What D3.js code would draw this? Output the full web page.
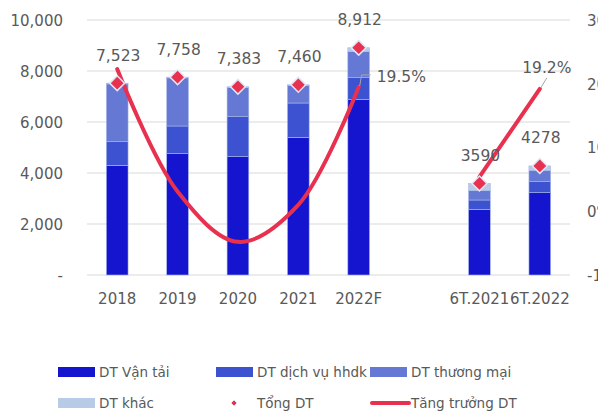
<!DOCTYPE html>
<html>
<head>
<meta charset="utf-8">
<script src="https://cdn.jsdelivr.net/npm/d3@7"></script>
<style>
  body { margin: 0; background: #fff; }
  text { font-family: "DejaVu Sans", sans-serif; fill: #595959; }
</style>
</head>
<body>
<div id="chart"></div>
<script>
// Données
const categories = ["2018", "2019", "2020", "2021", "2022F", "", "6T.2021", "6T.2022"];
const dtVanTai = [4300, 4757, 4640, 5400, 6890, null, 2576, 3228];
const dtDichVu = [927, 1086, 1568, 1345, 847, null, 365, 431];
const dtThuongMai = [2266, 1885, 1145, 685, 1020, null, 365, 441];
const dtKhac = [30, 30, 30, 30, 155, null, 284, 178];
const tongDT = [7523, 7758, 7383, 7460, 8912, null, 3590, 4278];
const tongLabels = ["7,523", "7,758", "7,383", "7,460", "8,912", "", "3590", "4278"];
const tangTruong = [22.3, 3.1, -4.8, 1.0, 19.5, null, 5.4, 19.2];
const leftTicks = [0, 2000, 4000, 6000, 8000, 10000];
const rightTicks = [-10, 0, 10, 20, 30];

const seriesNames = ["DT Vận tải", "DT dịch vụ hhdk", "DT thương mại", "DT khác"];
const colors = ["#1515d0", "#3d52d1", "#6578d3", "#b7cae6"];
const red = "#e8304f";

const width = 598, height = 413;
const svg = d3.select("#chart").append("svg")
  .attr("width", width).attr("height", height);

const x = d3.scaleBand().domain(categories.map((c, i) => i)).range([87, 570]).paddingInner(0.64).paddingOuter(0.32);
const y = d3.scaleLinear().domain([0, 10000]).range([275, 20]);
const y2 = d3.scaleLinear().domain([-10, 30]).range([275, 20]);

// lignes de grille
svg.append("g").selectAll("line").data(leftTicks).enter().append("line")
  .attr("x1", 87).attr("x2", 570)
  .attr("y1", d => y(d)).attr("y2", d => y(d))
  .attr("stroke", "#d9d9d9").attr("stroke-width", 1);

// axe gauche
const yAxis = d3.axisLeft(y).tickValues(leftTicks).tickSize(0).tickPadding(0)
  .tickFormat(d => d === 0 ? "-" : d3.format(",")(d));
const gy = svg.append("g").attr("transform", "translate(63,0)").call(yAxis);
gy.select(".domain").remove();
gy.selectAll("text").style("font-size", "15px").style("font-family", "DejaVu Sans").attr("fill", "#595959").attr("dy", "0.35em");

// axe droit
const yAxis2 = d3.axisRight(y2).tickValues(rightTicks).tickSize(0).tickPadding(0)
  .tickFormat(d => d + "%");
const gy2 = svg.append("g").attr("transform", "translate(587,0)").call(yAxis2);
gy2.select(".domain").remove();
gy2.selectAll("text").style("font-size", "15px").style("font-family", "DejaVu Sans").attr("fill", "#595959").attr("dy", "0.35em");

// axe X
svg.append("g").selectAll("text").data(categories).enter().append("text")
  .attr("x", (d, i) => x(i) + x.bandwidth() / 2)
  .attr("y", 304)
  .attr("text-anchor", "middle")
  .style("font-size", "15px")
  .text(d => d);

// barres empilées
const stackData = categories.map((c, i) => ({
  i: i, a: dtVanTai[i] || 0, b: dtDichVu[i] || 0, c: dtThuongMai[i] || 0, d: dtKhac[i] || 0
}));
const stack = d3.stack().keys(["a", "b", "c", "d"])(stackData);
stack.forEach((layer, k) => {
  svg.append("g").selectAll("rect").data(layer.filter(d => d.data.a > 0)).enter().append("rect")
    .attr("x", d => x(d.data.i))
    .attr("width", x.bandwidth())
    .attr("y", d => y(d[1]))
    .attr("height", d => y(d[0]) - y(d[1]))
    .attr("fill", colors[k])
    .attr("stroke", "#a9b8ea")
    .attr("stroke-width", 0.6);
});

// courbe de croissance
const line = d3.line()
  .defined(d => d.v !== null)
  .x(d => x(d.i) + x.bandwidth() / 2)
  .y(d => y2(d.v))
  .curve(d3.curveCatmullRom.alpha(0.5));
const growthPts = tangTruong.map((v, i) => ({ i: i, v: v }));
svg.append("path").datum(growthPts)
  .attr("d", line)
  .attr("fill", "none")
  .attr("stroke", red)
  .attr("stroke-width", 4)
  .attr("stroke-linecap", "round");

// étiquettes de croissance
const cx = i => x(i) + x.bandwidth() / 2;
const p4 = [cx(4), y2(tangTruong[4])];
svg.append("path")
  .attr("d", `M${p4[0] + 1},${p4[1] - 1}L${p4[0] + 3},${p4[1] - 12}L${p4[0] + 12},${p4[1] - 12}`)
  .attr("fill", "none").attr("stroke", "#a6a6a6").attr("stroke-width", 1);
svg.append("text")
  .attr("x", p4[0] + 18).attr("y", p4[1] - 10).attr("dy", "0.35em")
  .style("font-size", "15.5px")
  .text(d3.format(".1f")(tangTruong[4]) + "%");
const p7 = [cx(7), y2(tangTruong[7])];
svg.append("path")
  .attr("d", `M${p7[0] + 1},${p7[1] - 1}L${p7[0] + 7},${p7[1] - 11}`)
  .attr("fill", "none").attr("stroke", "#a6a6a6").attr("stroke-width", 1);
svg.append("text")
  .attr("x", p7[0] + 7).attr("y", p7[1] - 21).attr("dy", "0.35em")
  .attr("text-anchor", "middle")
  .style("font-size", "15.5px")
  .text(d3.format(".1f")(tangTruong[7]) + "%");

// marqueurs Tổng DT
const diamond = d3.symbol().type(d3.symbolSquare).size(110);
const totals = tongDT.map((v, i) => ({ i: i, v: v })).filter(d => d.v !== null);
svg.append("g").selectAll("path").data(totals).enter().append("path")
  .attr("d", diamond)
  .attr("transform", d => `translate(${cx(d.i)},${y(d.v)}) rotate(45)`)
  .attr("fill", red)
  .attr("stroke", "#dfe6f7")
  .attr("stroke-width", 1.5);

svg.append("g").selectAll("text").data(totals).enter().append("text")
  .attr("x", d => cx(d.i) + 1)
  .attr("y", d => y(d.v) - 28)
  .attr("dy", "0.35em")
  .attr("text-anchor", "middle")
  .style("font-size", "15.5px")
  .text(d => tongLabels[d.i]);

// légende
const legend = svg.append("g");
const legItems = [
  { name: seriesNames[0], type: "rect", color: colors[0], x: 58, y: 372 },
  { name: seriesNames[1], type: "rect", color: colors[1], x: 216, y: 372 },
  { name: seriesNames[2], type: "rect", color: colors[2], x: 370, y: 372 },
  { name: seriesNames[3], type: "rect", color: colors[3], x: 58, y: 403 },
  { name: "Tổng DT", type: "diamond", color: red, x: 216, y: 403 },
  { name: "Tăng trưởng DT", type: "line", color: red, x: 370, y: 403 }
];
legItems.forEach(it => {
  if (it.type === "rect") {
    legend.append("rect").attr("x", it.x).attr("y", it.y - 5)
      .attr("width", 37).attr("height", 10).attr("fill", it.color);
  } else if (it.type === "line") {
    legend.append("line").attr("x1", it.x + 2).attr("x2", it.x + 39)
      .attr("y1", it.y).attr("y2", it.y)
      .attr("stroke", it.color).attr("stroke-width", 4).attr("stroke-linecap", "round");
  } else {
    legend.append("path").attr("d", d3.symbol().type(d3.symbolSquare).size(18))
      .attr("transform", `translate(${it.x + 18},${it.y}) rotate(45)`)
      .attr("fill", it.color).attr("stroke", "#dfe6f7").attr("stroke-width", 0.8);
  }
  legend.append("text").attr("x", it.x + 41).attr("y", it.y)
    .attr("dy", "0.35em").style("font-size", "13.5px").text(it.name);
});
</script>
</body>
</html>
